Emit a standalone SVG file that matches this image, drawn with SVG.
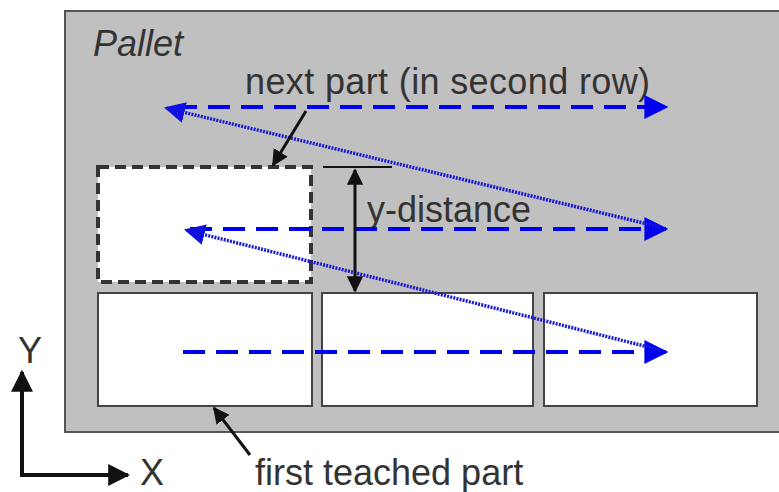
<svg xmlns="http://www.w3.org/2000/svg" width="779" height="492" viewBox="0 0 779 492">
<defs>
<style>
.lbl{font-family:"Liberation Sans",Arial,sans-serif;font-size:36px;fill:#333}
.part{fill:#fff;stroke:#444;stroke-width:2}
.dash{stroke:#0000ee;stroke-width:4;stroke-dasharray:22 11;fill:none}
.dot{stroke:#1818d8;stroke-width:3.5;stroke-dasharray:2 1.2;fill:none}
.blk{stroke:#111;fill:none}
</style>
<marker id="ab" viewBox="0 0 10 10" refX="9" refY="5" markerWidth="6" markerHeight="6" markerUnits="strokeWidth" orient="auto-start-reverse"><path d="M0,0 L10,5 L0,10 Z" fill="#0000ee"/></marker>
<marker id="abd" viewBox="0 0 10 10" refX="9" refY="5" markerWidth="6" markerHeight="6" markerUnits="strokeWidth" orient="auto-start-reverse"><path d="M0,0 L10,5 L0,10 Z" fill="#1010e0"/></marker>
<marker id="ak" viewBox="0 0 10 10" refX="9" refY="5" markerWidth="5.5" markerHeight="5.5" markerUnits="strokeWidth" orient="auto-start-reverse"><path d="M0,0 L10,5 L0,10 Z" fill="#111"/></marker>
</defs>
<rect width="779" height="492" fill="#fff"/>
<g id="pallet">
<rect x="65" y="11" width="730" height="421" fill="#c0c0c0" stroke="#555" stroke-width="2"/>
<text class="lbl" x="93" y="56" font-style="italic" font-size="34">Pallet</text>
</g>
<g id="part1"><rect class="part" x="98" y="293" width="214" height="113"/></g>
<g id="part2"><rect class="part" x="322" y="293" width="211" height="113"/></g>
<g id="part3"><rect class="part" x="544" y="293" width="213" height="113"/></g>
<g id="next-part"><rect x="98" y="167" width="213" height="115" fill="#fff" stroke="#333" stroke-width="4" stroke-dasharray="11 6"/></g>
<g id="labels">
<text class="lbl" x="245" y="94" textLength="405">next part (in second row)</text>
<text class="lbl" x="367" y="222">y-distance</text>
<text class="lbl" x="255" y="485">first teached part</text>
<text class="lbl" x="18" y="363">Y</text>
<text class="lbl" x="140" y="485">X</text>
</g>
<g id="connectors">
<line class="dash" x1="183" y1="352" x2="666" y2="352" marker-end="url(#ab)"/>
<line class="dash" x1="190" y1="229" x2="666" y2="229" marker-end="url(#ab)"/>
<line class="dash" x1="175" y1="107" x2="666" y2="107" marker-end="url(#ab)"/>
<line class="dot" x1="660" y1="350" x2="186" y2="230" marker-end="url(#abd)"/>
<line class="dot" x1="660" y1="227" x2="166" y2="108" marker-end="url(#abd)"/>
<line class="blk" x1="323" y1="167" x2="392" y2="167" stroke-width="2"/>
<line class="blk" x1="355" y1="170" x2="355" y2="291" stroke-width="3" marker-start="url(#ak)" marker-end="url(#ak)"/>
<line class="blk" x1="306" y1="111" x2="273" y2="165" stroke-width="3" marker-end="url(#ak)"/>
<line class="blk" x1="250" y1="455" x2="214" y2="408" stroke-width="3" marker-end="url(#ak)"/>
<polyline class="blk" points="22,372 22,475 128,475" stroke-width="4" stroke-linejoin="miter" marker-start="url(#ak)" marker-end="url(#ak)"/>
</g>
</svg>
